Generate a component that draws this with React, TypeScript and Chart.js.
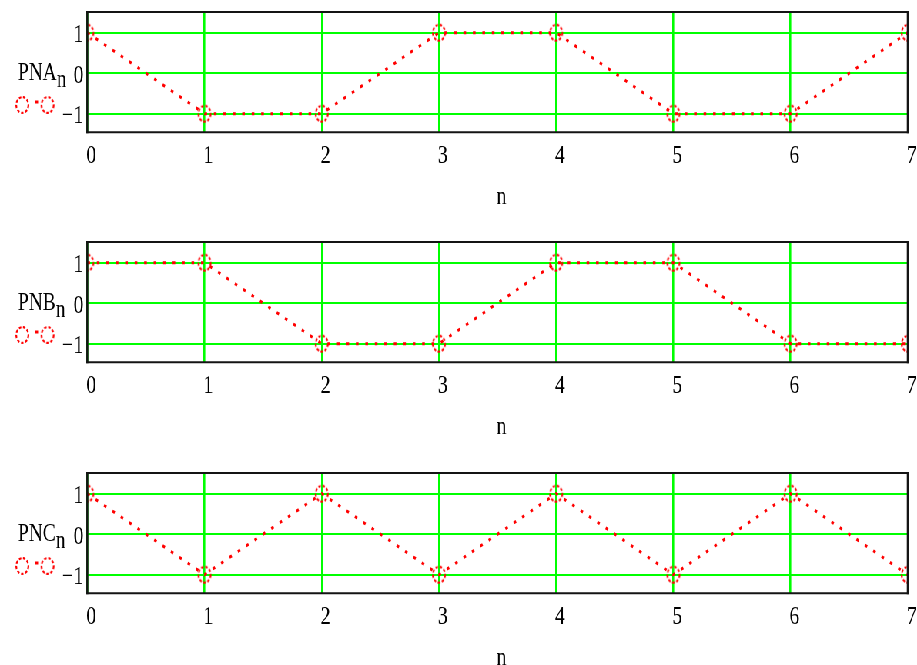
import React, { useEffect, useRef } from "react";
import { Chart, registerables } from "chart.js";

Chart.register(...registerables);

// ---- data ----
const N_VALUES = [0, 1, 2, 3, 4, 5, 6, 7];
const PNA = [1, -1, -1, 1, 1, -1, -1, 1];
const PNB = [1, 1, -1, -1, 1, 1, -1, -1];
const PNC = [1, -1, 1, -1, 1, -1, 1, -1];
const X_TICKS = [0, 1, 2, 3, 4, 5, 6, 7];
const Y_TICKS = [-1, 0, 1];
const SERIES_NAMES = ["PNA", "PNB", "PNC"];
const SUBSCRIPT = "n";
const X_TITLE = "n";
const X_MIN = 0;
const X_MAX = 7;
const Y_MIN = -1.46;
const Y_MAX = 1.51;

// ---- layout ----
const SX = 0.77; // horizontal compression of the reference picture
const PAGE_W = 917;
const PAGE_H = 665;
const INNER_W = Math.round(PAGE_W / SX);
const PLOT_LEFT = 87.3 / SX;
const PLOT_RIGHT = 913.5 / SX;
const PLOT_TOP = 10.5;
const PLOT_H = 121.8;
const FONT = '"Liberation Serif", "Times New Roman", serif';
const FONT_SIZE = 26;
const LABEL_SIZE = 25;
const RED = "#ff0000";
const GREEN = "#00ff00";

const PANELS = [
  { values: PNA, name: SERIES_NAMES[0], top: 0, height: 231 },
  { values: PNB, name: SERIES_NAMES[1], top: 230, height: 231 },
  { values: PNC, name: SERIES_NAMES[2], top: 461, height: 204 },
];

function makeMarker(): HTMLCanvasElement {
  const c = document.createElement("canvas");
  c.width = 22;
  c.height = 22;
  const ctx = c.getContext("2d")!;
  ctx.strokeStyle = RED;
  ctx.lineWidth = 2.2;
  ctx.setLineDash([3.2, 2.2]);
  ctx.beginPath();
  ctx.arc(11, 11, 7.9, 0, Math.PI * 2);
  ctx.stroke();
  return c;
}

function Panel({ values, name, height }: { values: number[]; name: string; height: number }) {
  const ref = useRef<HTMLCanvasElement | null>(null);
  useEffect(() => {
    const canvas = ref.current;
    if (!canvas) return;
    const marker = makeMarker();
    const decor = {
      id: "decor",
      afterDraw(chart: any) {
        const ctx = chart.ctx as CanvasRenderingContext2D;
        const a = chart.chartArea;
        ctx.save();
        // frame
        ctx.strokeStyle = "#141414";
        ctx.lineWidth = 2;
        ctx.beginPath();
        ctx.moveTo(a.left - 1.3, a.top);
        ctx.lineTo(a.right + 1.3, a.top);
        ctx.moveTo(a.left - 1.3, a.bottom);
        ctx.lineTo(a.right + 1.3, a.bottom);
        ctx.stroke();
        ctx.lineWidth = 2.6;
        ctx.beginPath();
        ctx.moveTo(a.left, a.top - 1);
        ctx.lineTo(a.left, a.bottom + 1);
        ctx.moveTo(a.right, a.top - 1);
        ctx.lineTo(a.right, a.bottom + 1);
        ctx.stroke();
        // y label with subscript
        ctx.fillStyle = "#000";
        ctx.textBaseline = "alphabetic";
        ctx.textAlign = "left";
        ctx.font = `${LABEL_SIZE}px ${FONT}`;
        const lx = 23.5;
        ctx.fillText(name, lx, a.top + 67.8);
        const w = ctx.measureText(name).width;
        ctx.fillText(SUBSCRIPT, lx + w + 0.3, a.top + 74.5);
        // legend symbol
        ctx.drawImage(marker, 29 - 11, a.top + 93 - 11);
        ctx.drawImage(marker, 61.7 - 11, a.top + 93 - 11);
        ctx.fillStyle = RED;
        ctx.fillRect(46, a.top + 88.5, 3.5, 3);
        // x title
        ctx.fillStyle = "#000";
        ctx.font = `${FONT_SIZE}px ${FONT}`;
        ctx.textAlign = "center";
        ctx.textBaseline = "middle";
        ctx.fillText(X_TITLE, (a.left + a.right) / 2 + 5, a.bottom + 64.5);
        ctx.restore();
      },
    };
    const chart = new Chart(canvas, {
      type: "line",
      data: {
        datasets: [
          {
            data: values.map((v, i) => ({ x: N_VALUES[i], y: v })),
            borderColor: RED,
            backgroundColor: RED,
            borderWidth: 3,
            borderDash: [3.5, 8.8],
            borderCapStyle: "butt",
            pointStyle: marker as any,
            pointRadius: 9,
            pointHoverRadius: 9,
            tension: 0,
            fill: false,
            clip: 0 as any,
          },
        ],
      },
      options: {
        animation: false,
        responsive: true,
        maintainAspectRatio: false,
        devicePixelRatio: 1,
        events: [],
        layout: { padding: { top: PLOT_TOP, left: 0, bottom: 0, right: INNER_W - PLOT_RIGHT } },
        plugins: { legend: { display: false }, tooltip: { enabled: false }, title: { display: false } },
        scales: {
          x: {
            type: "linear",
            min: X_MIN,
            max: X_MAX,
            afterBuildTicks: (s: any) => {
              s.ticks = X_TICKS.map((v) => ({ value: v }));
            },
            afterFit: (s: any) => {
              s.paddingLeft = 0;
              s.paddingRight = 0;
              s.height = height - PLOT_TOP - PLOT_H;
            },
            grid: { color: GREEN, lineWidth: 2.6, drawTicks: false },
            border: { display: false },
            ticks: {
              color: "#000",
              font: { family: FONT, size: FONT_SIZE },
              padding: 8,
              labelOffset: 5,
              maxRotation: 0,
              autoSkip: false,
            },
          },
          y: {
            type: "linear",
            min: Y_MIN,
            max: Y_MAX,
            afterBuildTicks: (s: any) => {
              s.ticks = Y_TICKS.map((v) => ({ value: v }));
            },
            afterFit: (s: any) => {
              s.width = PLOT_LEFT;
              s.paddingTop = 0;
              s.paddingBottom = 0;
            },
            grid: { color: GREEN, lineWidth: 2, drawTicks: false },
            border: { display: false },
            ticks: {
              color: "#000",
              font: { family: FONT, size: FONT_SIZE },
              padding: 5,
              labelOffset: 3,
              callback: (v: any) => (Number(v) < 0 ? "\u2212" + Math.abs(Number(v)) : String(v)),
            },
          },
        },
      },
      plugins: [decor],
    });
    return () => chart.destroy();
  }, [values, name, height]);
  return (
    <div style={{ position: "relative", width: INNER_W, height }}>
      <canvas ref={ref} />
    </div>
  );
}

export default function App() {
  useEffect(() => {
    document.body.style.margin = "0";
    document.body.style.background = "#fff";
  }, []);
  return (
    <div style={{ position: "relative", width: PAGE_W, height: PAGE_H, overflow: "hidden", background: "#fff" }}>
      <div style={{ position: "absolute", left: 0, top: 0, width: INNER_W, transform: `scaleX(${SX})`, transformOrigin: "0 0" }}>
        {PANELS.map((p) => (
          <div key={p.name} style={{ position: "absolute", left: 0, top: p.top }}>
            <Panel values={p.values} name={p.name} height={p.height} />
          </div>
        ))}
      </div>
    </div>
  );
}
